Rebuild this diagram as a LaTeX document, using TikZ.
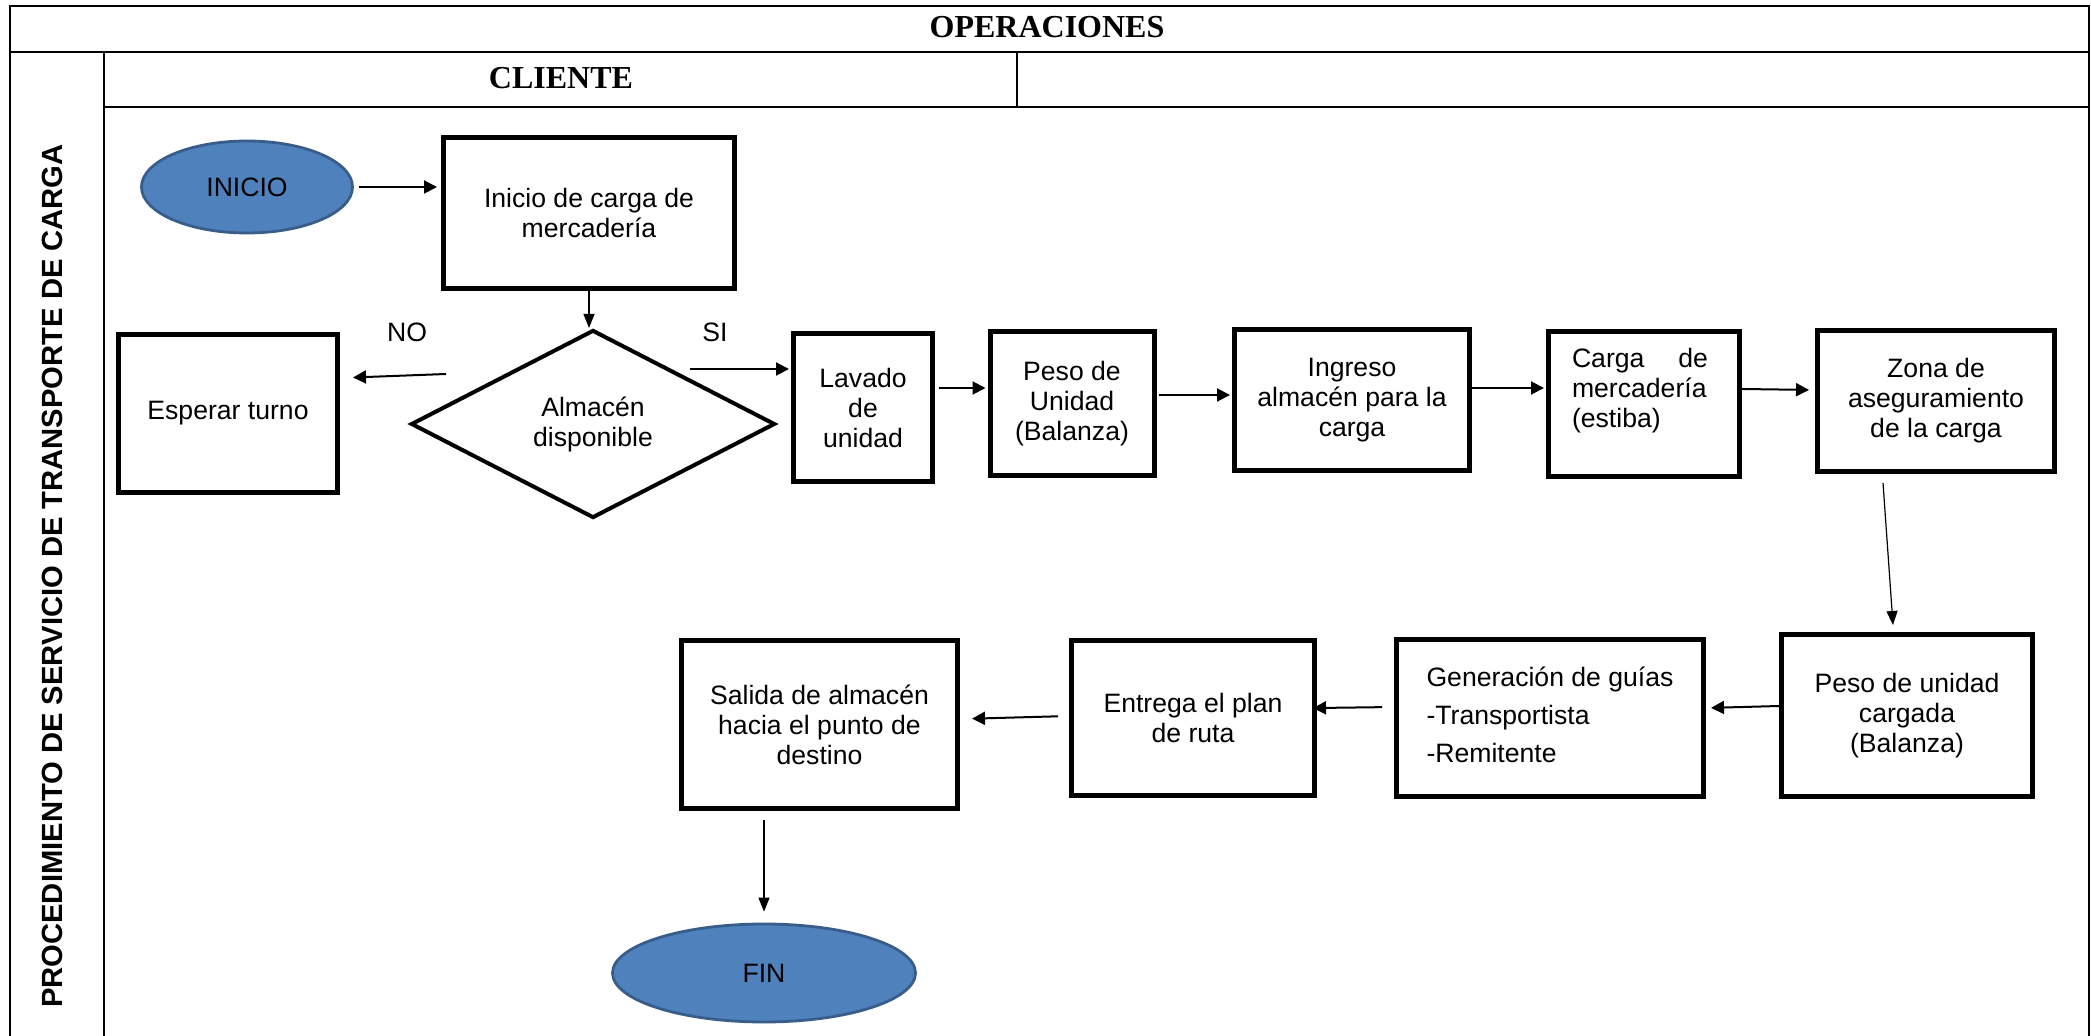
\documentclass[tikz,border=0pt]{standalone}
\usepackage{fontspec}
\setmainfont{Liberation Sans}
\newfontfamily\serifbold{Liberation Serif}
\usetikzlibrary{shapes.geometric,arrows.meta}
\definecolor{ellfill}{HTML}{4F81BD}
\definecolor{elldraw}{HTML}{385D8A}
\newcommand\bxfont{\fontsize{13.3}{15}\selectfont}
\begin{document}
\begin{tikzpicture}[x=0.5pt,y=-0.5pt,
  frame/.style={line width=1.1pt, line cap=rect},
  pbox/.style={draw, line width=2.5pt, align=center, inner sep=2pt, font=\bxfont},
  term/.style={ellipse, draw=elldraw, fill=ellfill, line width=1.4pt, inner sep=0pt, font=\bxfont},
  decis/.style={diamond, draw, line width=2pt, inner sep=0pt, align=center, font=\bxfont},
  arr/.style={line width=1pt, -{Triangle[length=6.5pt,width=6.5pt]}},
  arrthin/.style={line width=0.6pt, -{Triangle[length=7pt,width=5.5pt]}},
  hdr/.style={font=\serifbold\bfseries\fontsize{16}{18}\selectfont},
  lbl/.style={font=\bxfont}]
\useasboundingbox (0,0) rectangle (2091,1036);

% frame of the table
\draw[frame] (10,1036) -- (10,6) -- (2089,6) -- (2089,1036);
\draw[frame] (10,52) -- (2089,52);
\draw[frame] (104,52) -- (104,1036);
\draw[frame] (104,107) -- (2089,107);
\draw[frame] (1017,52) -- (1017,107);

\node[hdr] (ops) at (1047,27) {OPERACIONES};
\node[hdr] (cli) at (561,78) {CLIENTE};
\node[rotate=90, font=\bfseries\fontsize{14.6}{16}\selectfont] (proc) at (52,576)
  {PROCEDIMIENTO DE SERVICIO DE TRANSPORTE DE CARGA};

% nodes
\node[term, minimum width=105.5pt, minimum height=46pt] (ini) at (247,187) {INICIO};
\node[pbox, minimum width=145.5pt, minimum height=75.5pt] (b1) at (589,213) {Inicio de carga de\\mercadería};
\node[pbox, minimum width=109.5pt, minimum height=79pt] (esp) at (228,413.5) {Esperar turno};
\node[decis, minimum width=182pt, minimum height=94pt] (dia) at (593,424) {Almacén\\disponible};
\node[pbox, minimum width=69.5pt, minimum height=74pt] (lav) at (863,407.5) {Lavado\\de\\unidad};
\node[pbox, minimum width=82pt, minimum height=72pt] (peso) at (1072,403.5) {Peso de\\Unidad\\(Balanza)};
\node[pbox, minimum width=117.5pt, minimum height=70.5pt] (ing) at (1352,400) {Ingreso\\almacén para la\\carga};
\node[pbox, minimum width=95.5pt, minimum height=72.5pt,
  label={[font=\bxfont, text width=68pt, align=left, shift={(-2pt,6.5pt)}]center:Carga\hfill de\\mercadería\\(estiba)}] (carga) at (1644,404) {};
\node[pbox, minimum width=118.5pt, minimum height=70.5pt] (zona) at (1936,401) {Zona de\\aseguramiento\\de la carga};
\node[pbox, minimum width=125.5pt, minimum height=81pt] (pc) at (1907,715.5) {Peso de unidad\\cargada\\(Balanza)};
\node[pbox, minimum width=153.5pt, minimum height=78.5pt] (gen) at (1550,718)
  {\begin{tabular}{@{}l@{}}\multicolumn{1}{@{}c@{}}{Generación de guías}\\[4pt] -Transportista\\[4pt] -Remitente\end{tabular}};
\node[pbox, minimum width=121.5pt, minimum height=77.5pt] (ent) at (1193,718) {Entrega el plan\\de ruta};
\node[pbox, minimum width=138pt, minimum height=84pt] (sal) at (819.5,724.5) {Salida de almacén\\hacia el punto de\\destino};
\node[term, minimum width=151.5pt, minimum height=49pt] (fin) at (764,973) {FIN};

\node[lbl] (no) at (407,332) {NO};
\node[lbl] (si) at (715,332) {SI};

% connectors
\draw[arr, shorten <=2.5pt, shorten >=2pt] (ini.east) -- (ini.east -| b1.west);
\draw[arrthin] (b1.south) -- (b1.south |- dia.north);
\draw[arr] ([shift={(37,-50)}]dia.west) -- ([shift={(13,-36)}]esp.east);
\draw[arr, shorten >=1pt] ([shift={(-87,-55)}]dia.east) -- (lav.west |- 0,369);
\draw[arr, shorten <=2pt, shorten >=1pt] (lav.east |- 0,388) -- (peso.west |- 0,388);
\draw[arr, shorten <=1pt, shorten >=1pt] (peso.east |- 0,395) -- (ing.west |- 0,395);
\draw[arr, shorten >=1pt] (ing.east |- 0,388) -- (carga.west |- 0,388);
\draw[arr, shorten <=-2pt, shorten >=3pt] (carga.east |- 0,389) -- (zona.west |- 0,390);
\draw[arrthin] ([shift={(-53,9)}]zona.south) -- ([shift={(-14,-7)}]pc.north);
\draw[arr, shorten >=2.5pt] (pc.west |- 0,706) -- (gen.east |- 0,708);
\draw[arr, shorten <=6pt, shorten >=-2pt] (gen.west |- 0,707) -- (ent.east |- 0,708);
\draw[arr, shorten <=5.5pt, shorten >=6pt] (ent.west |- 0,716) -- (sal.east |- 0,719);
\draw[arrthin, shorten <=4.5pt, shorten >=5.5pt] (764,0 |- sal.south) -- (fin.north);
\end{tikzpicture}
\end{document}
